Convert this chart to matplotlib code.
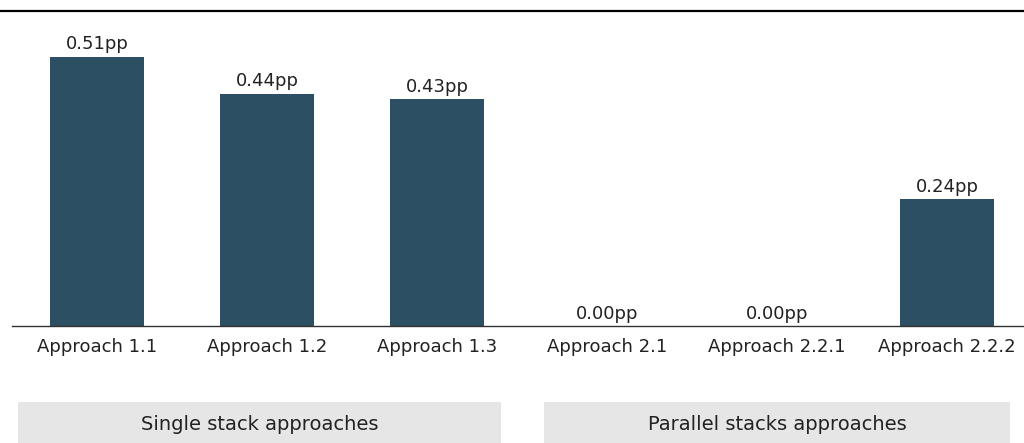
import matplotlib
matplotlib.use("Agg")
import matplotlib.pyplot as plt
from matplotlib.patches import Rectangle
from matplotlib.lines import Line2D

categories = ["Approach 1.1", "Approach 1.2", "Approach 1.3",
              "Approach 2.1", "Approach 2.2.1", "Approach 2.2.2"]
values = [0.51, 0.44, 0.43, 0.00, 0.00, 0.24]
groups = ["Single stack approaches", "Parallel stacks approaches"]

W, H = 1024, 443
fig = plt.figure(figsize=(W / 100, H / 100), dpi=100)
plt.rcParams['font.family'] = ['DejaVu Sans']

def fx(px):
    return px / W

def fy(py):
    return (H - py) / H

ax = fig.add_axes([fx(12), fy(326), fx(1023) - fx(12), fy(11) - fy(326)])
xs = list(range(len(categories)))
bars = ax.bar(xs, values, width=0.553, color="#2d4f63", edgecolor="none")
ax.set_xlim(-0.5, 5.447)
ax.set_ylim(0, 0.597)
for x, v in zip(xs, values):
    ax.annotate(f"{v:.2f}pp", (x, v), xytext=(0, 2.5), textcoords="offset points",
                ha="center", va="bottom", fontsize=13, color="#222222")
ax.set_xticks(xs)
ax.set_xticklabels(categories, fontsize=13, color="#222222")
ax.tick_params(axis="x", length=0, pad=9)
ax.set_yticks([])
for s in ["top", "left", "right"]:
    ax.spines[s].set_visible(False)
ax.spines["bottom"].set_color("#333333")
ax.spines["bottom"].set_linewidth(1.0)

# top rule
fig.add_artist(Line2D([fx(0), fx(1023)], [fy(11), fy(11)], color="black",
                      linewidth=1.6, transform=fig.transFigure))

# group boxes
boxes = [(18, 501), (544, 1010)]
for (x0, x1), label in zip(boxes, groups):
    fig.add_artist(Rectangle((fx(x0), fy(443)), fx(x1) - fx(x0), fy(402) - fy(443),
                             transform=fig.transFigure, facecolor="#e6e6e6",
                             edgecolor="none"))
    fig.text((fx(x0) + fx(x1)) / 2, fy(424), label, ha="center", va="center",
             fontsize=14, color="#222222")

fig.savefig("out.png", dpi=100)
